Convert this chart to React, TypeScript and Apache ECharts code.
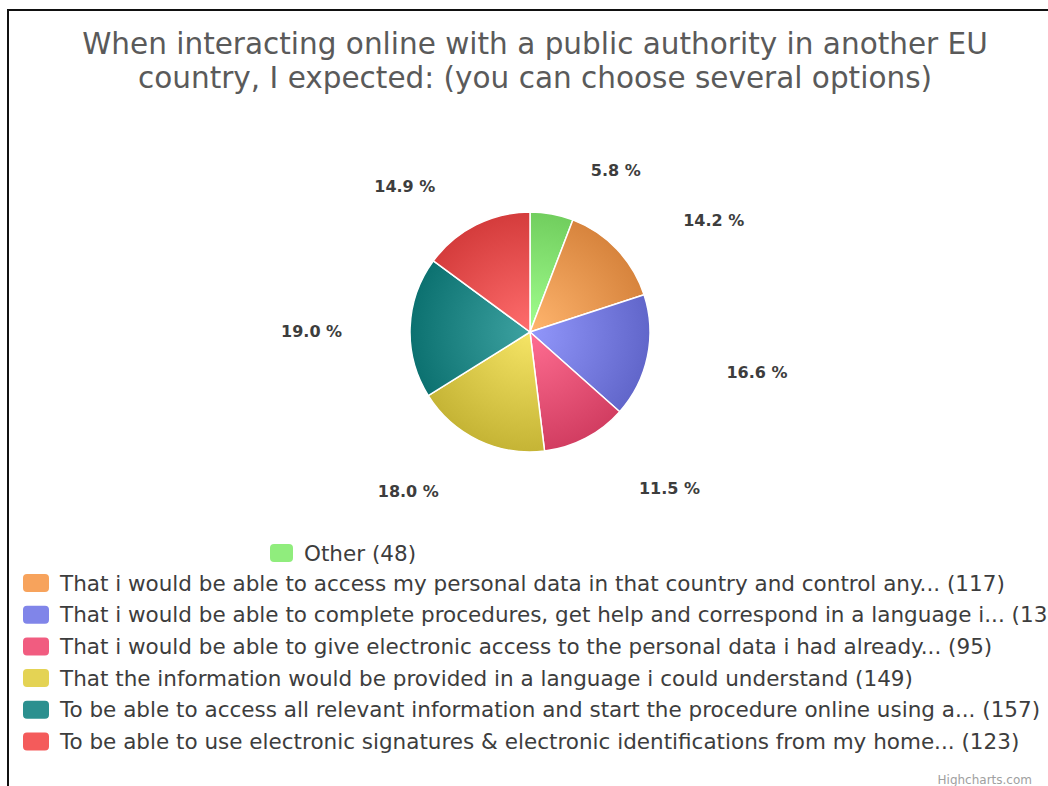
import React, { useEffect, useRef } from "react";
import * as echarts from "echarts";

const titleLines = [
  "When interacting online with a public authority in another EU",
  "country, I expected: (you can choose several options)",
];
const categories = [
  "Other",
  "That i would be able to access my personal data in that country and control any...",
  "That i would be able to complete procedures, get help and correspond in a language i...",
  "That i would be able to give electronic access to the personal data i had already...",
  "That the information would be provided in a language i could understand",
  "To be able to access all relevant information and start the procedure online using a...",
  "To be able to use electronic signatures & electronic identifications from my home...",
];
const counts = [48, 117, 137, 95, 149, 157, 123];
const baseColors = ["#90ed7d", "#f7a35c", "#8085e9", "#f15c80", "#e4d354", "#2b908f", "#f45b5b"];
const creditText = "Highcharts.com";

function shade(hex: string, amt: number): string {
  const n = parseInt(hex.slice(1), 16);
  const ch = [(n >> 16) & 255, (n >> 8) & 255, n & 255].map((c) =>
    Math.max(0, Math.min(255, Math.round(c + amt * 255)))
  );
  return `rgb(${ch[0]},${ch[1]},${ch[2]})`;
}

const CX = 530;
const CY = 332;
const R = 120;
const FONT = "'DejaVu Sans', Verdana, sans-serif";

export default function App() {
  const ref = useRef<HTMLDivElement>(null);
  useEffect(() => {
    if (!ref.current) return;
    const chart = echarts.init(ref.current, undefined, { renderer: "svg" });
    const total = counts.reduce((a, b) => a + b, 0);
    const legendTextStyle = {
      color: "#3d3d3d",
      fontSize: 21.5,
      fontFamily: FONT,
      lineHeight: 24,
      padding: [0, 0, 0, 5],
    };
    const fmt = (name: string) => `${name} (${counts[categories.indexOf(name)]})`;
    chart.setOption({
      animation: false,
      backgroundColor: "#ffffff",
      title: {
        text: titleLines.join("\n"),
        left: CX,
        top: 22,
        textAlign: "center",
        textStyle: {
          color: "#5a5a5a",
          fontSize: 29.5,
          fontWeight: "normal",
          lineHeight: 34,
          fontFamily: FONT,
        },
      },
      legend: [
        {
          data: [{ name: categories[0], itemStyle: { color: baseColors[0] } }],
          left: 268,
          top: 541,
          padding: 0,
          itemWidth: 25,
          itemHeight: 20,
          icon: "roundRect",
          formatter: fmt,
          textStyle: legendTextStyle,
        },
        {
          data: categories.slice(1).map((c, i) => ({ name: c, itemStyle: { color: baseColors[i + 1] } })),
          orient: "vertical",
          left: 21,
          top: 571,
          padding: 0,
          itemWidth: 28,
          itemHeight: 20,
          itemGap: 7.7,
          icon: "roundRect",
          formatter: fmt,
          textStyle: legendTextStyle,
        },
      ],
      graphic: [
        { type: "line", shape: { x1: 7, y1: 10, x2: 1048, y2: 10 }, style: { stroke: "#111", lineWidth: 2 } },
        { type: "line", shape: { x1: 8, y1: 10, x2: 8, y2: 786 }, style: { stroke: "#111", lineWidth: 2 } },
        {
          type: "text",
          right: 16,
          top: 774,
          style: { text: creditText, fill: "#a0a0a0", fontSize: 12, fontFamily: FONT },
        },
      ],
      series: [
        {
          type: "pie",
          center: [CX, CY],
          radius: [0, R],
          startAngle: 90,
          clockwise: true,
          avoidLabelOverlap: false,
          data: categories.map((c, i) => ({
            name: c,
            value: counts[i],
            itemStyle: {
              color: new echarts.graphic.RadialGradient(CX, CY, R * 1.1, [
                { offset: 0, color: shade(baseColors[i], 0.07) },
                { offset: 1, color: shade(baseColors[i], -0.14) },
              ], true),
            },
          })),
          itemStyle: { borderColor: "#ffffff", borderWidth: 1.5 },
          label: {
            show: true,
            position: "outside",
            formatter: (p: any) => `${((p.value / total) * 100).toFixed(1)} %`,
            color: "#3d3d3d",
            fontSize: 16,
            fontWeight: "bold",
            fontFamily: FONT,
          },
          labelLine: { show: false, length: 50, length2: 25 },
          labelLayout: (p: any) => ({
            dx: p.align === "right" ? 12 : 0,
            dy: 6,
          }),
          emphasis: { disabled: true },
        },
      ],
    });
    return () => chart.dispose();
  }, []);
  return (
    <div
      ref={ref}
      style={{ position: "fixed", left: 0, top: 0, width: 1048, height: 786, background: "#fff" }}
    />
  );
}
